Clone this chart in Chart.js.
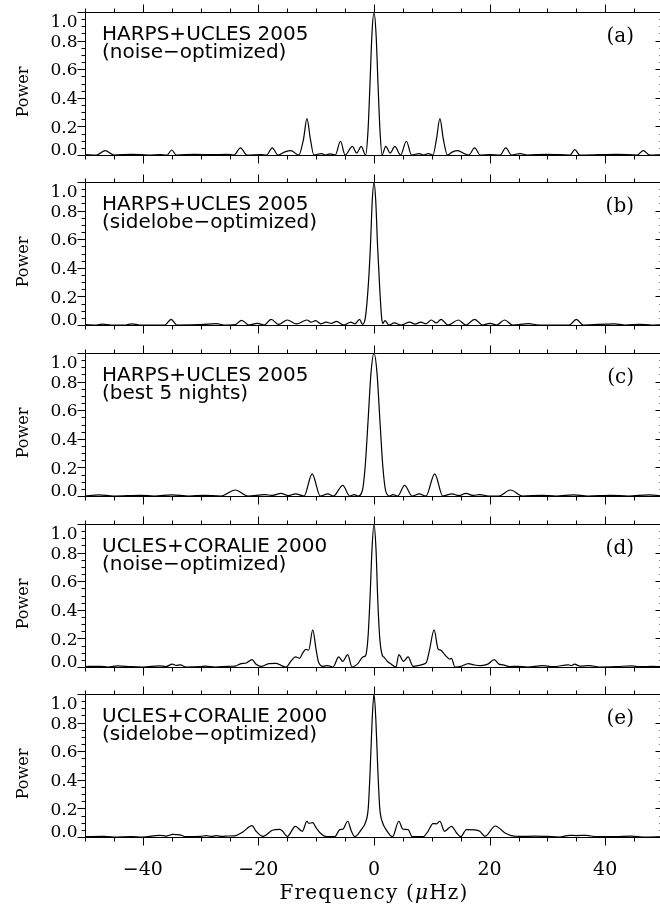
<!DOCTYPE html>
<html>
<head>
<meta charset="utf-8">
<title>Spectral windows</title>
<script src="https://cdn.jsdelivr.net/npm/chart.js@4.4.1/dist/chart.umd.min.js"></script>
<style>
  html, body { margin: 0; padding: 0; background: #fff; overflow: hidden; }
  #wrap { position: relative; width: 660px; height: 911px; overflow: hidden; background: #fff; }
  #wrap canvas { position: absolute; left: 0; }
</style>
</head>
<body>
<div id="wrap"></div>
<script>
// spectral window of each data set: [frequency (uHz), normalised power]
const windowA = [
  [-50, 0.003], [-48, 0], [-46.5, 0.03], [-45, 0], [-42, 0.004], [-39, 0], [-37, 0.003], [-35.8, 0],
  [-35, 0.035], [-34.2, 0], [-31, 0.004], [-28, 0.002], [-25.5, 0.004], [-24.2, 0], [-23.1, 0.05],
  [-22, 0], [-19.5, 0.003], [-18.6, 0], [-17.6, 0.05], [-16.6, 0], [-15.4, 0.022], [-14.4, 0.03],
  [-13, 0], [-12.2, 0.11], [-11.6, 0.254], [-11, 0.11], [-10.4, 0], [-9.1, 0.01], [-8.4, 0],
  [-7.6, 0.008], [-6.7, 0], [-5.8, 0.096], [-5, 0], [-3.74, 0.06], [-3, 0.014], [-2.2, 0.06],
  [-1.45, 0], [-1.05, 0.16], [-0.7, 0.49], [-0.35, 0.85], [0, 1], [0.35, 0.85], [0.7, 0.49],
  [1.05, 0.16], [1.4, 0], [2.03, 0.06], [2.8, 0.014], [3.6, 0.06], [4.6, 0], [5.6, 0.096], [6.5, 0],
  [7.8, 0.01], [8.6, 0], [9.4, 0.01], [10.2, 0], [10.8, 0.11], [11.4, 0.254], [12, 0.11], [12.7, 0],
  [13.6, 0.022], [14.5, 0.03], [15.6, 0.01], [16.4, 0], [17.4, 0.05], [18.4, 0], [20, 0.003],
  [21.8, 0], [22.8, 0.05], [23.8, 0], [25.3, 0.01], [26.5, 0], [30, 0.004], [33.9, 0], [34.75, 0.037],
  [35.6, 0], [39, 0.002], [42, 0.004], [45.5, 0], [46.6, 0.03], [47.7, 0], [50, 0.003]
];

const windowB = [
  [-50, 0.002], [-48, 0], [-47, 0.006], [-45.5, 0], [-43, 0], [-41.9, 0.008], [-40.5, 0], [-36.2, 0],
  [-35.1, 0.04], [-34.1, 0], [-30, 0.002], [-27.3, 0.01], [-26, 0], [-24, 0.003], [-22.9, 0.033],
  [-21.6, 0], [-20.2, 0.012], [-19, 0], [-17.8, 0.04], [-16.5, 0.004], [-15, 0.035], [-13.4, 0.008],
  [-11.6, 0.035], [-10.9, 0.02], [-10.1, 0.03], [-9.2, 0.008], [-8.3, 0.02], [-7.4, 0.012],
  [-6.5, 0.025], [-5.2, 0], [-4, 0.02], [-3.3, 0.008], [-2.5, 0.04], [-2, 0.005], [-1.5, 0.05],
  [-1, 0.27], [-0.62, 0.55], [-0.3, 0.87], [0, 1], [0.3, 0.87], [0.62, 0.55], [1, 0.25], [1.3, 0.06],
  [1.5, 0.01], [1.9, 0.03], [2.6, 0], [3.5, 0.015], [4.7, 0], [6.2, 0.02], [7.1, 0.006], [8.1, 0.02],
  [9, 0.008], [9.9, 0.035], [10.8, 0.015], [11.6, 0.04], [12.8, 0], [14.6, 0.035], [15.9, 0],
  [17.4, 0.04], [18.8, 0], [20.1, 0.012], [21.2, 0], [22.6, 0.035], [24, 0], [26.7, 0.01], [28.5, 0],
  [33.8, 0], [35, 0.04], [36.2, 0], [41.6, 0.008], [43.5, 0], [46, 0.005], [48, 0], [50, 0.002]
];

const windowC = [
  [-50, 0], [-47.6, 0.008], [-45, 0], [-40.4, 0.005], [-38, 0], [-35, 0.008], [-32, 0], [-29.5, 0.004],
  [-26.5, 0], [-24, 0.042], [-21.8, 0], [-18.9, 0.01], [-17.6, 0.004], [-16.1, 0.019], [-14.8, 0.003],
  [-13.6, 0.015], [-12.1, 0], [-10.7, 0.155], [-9.3, 0], [-8, 0.015], [-7, 0], [-5.4, 0.075],
  [-4.2, 0], [-3.4, 0.01], [-2.8, 0], [-2, 0.04], [-1.5, 0.22], [-1.05, 0.51], [-0.5, 0.87], [0, 1],
  [0.5, 0.87], [1.05, 0.51], [1.5, 0.22], [2, 0.04], [2.7, 0], [3.3, 0.01], [4.1, 0], [5.3, 0.075],
  [6.6, 0], [7.8, 0.015], [9, 0], [10.5, 0.155], [11.9, 0], [13.5, 0.015], [14.7, 0.003],
  [15.9, 0.019], [17.1, 0.004], [18.3, 0.01], [19.8, 0], [21.6, 0], [23.6, 0.042], [25.7, 0],
  [29, 0.004], [31.5, 0], [34.5, 0.008], [37, 0], [41, 0.004], [44, 0], [47.6, 0.008], [50, 0]
];

const windowD = [
  [-50, 0.003], [-47.3, 0.005], [-46, 0], [-44.4, 0.008], [-42, 0.002], [-40, 0], [-37.1, 0.008],
  [-36, 0.003], [-34.9, 0.02], [-34.2, 0.012], [-33.5, 0.015], [-32.5, 0], [-30, 0.003],
  [-29.2, 0.006], [-27.5, 0], [-25, 0.005], [-24, 0.006], [-23, 0.024], [-22.1, 0.028],
  [-21.1, 0.052], [-20.4, 0.019], [-19.5, 0.004], [-18.2, 0.024], [-17, 0.026], [-16, 0.01],
  [-15.2, 0], [-14.3, 0.045], [-13.6, 0.071], [-12.9, 0.061], [-12.3, 0.1], [-11.8, 0.123],
  [-11.3, 0.118], [-10.6, 0.259], [-10, 0.118], [-9.6, 0.035], [-8.8, 0.005], [-8, 0.01], [-7.1, 0],
  [-6.1, 0.071], [-5.4, 0.04], [-4.55, 0.087], [-3.8, 0], [-2.8, 0.024], [-1.9, 0.071],
  [-1.45, 0.08], [-1.05, 0.2], [-0.7, 0.47], [-0.35, 0.82], [0, 1], [0.35, 0.82], [0.65, 0.47],
  [1, 0.2], [1.45, 0.08], [1.7, 0.07], [2.3, 0.04], [3, 0.019], [3.8, 0], [4.3, 0.087], [5.1, 0.04],
  [5.9, 0.071], [6.75, 0.005], [7.9, 0.012], [8.6, 0.02], [9.1, 0.035], [9.6, 0.118], [10.4, 0.259],
  [11.1, 0.125], [11.55, 0.118], [11.95, 0.1], [12.6, 0.071], [13.1, 0.055], [13.4, 0.06], [14, 0],
  [15.1, 0.005], [16.3, 0.024], [17.4, 0.014], [18.5, 0.01], [19.7, 0.02], [20.8, 0.052],
  [21.6, 0.02], [22.3, 0.015], [23.5, 0.003], [24.9, 0.005], [26.5, 0], [29.2, 0.01], [31, 0.002],
  [33.6, 0.015], [34.2, 0.01], [34.7, 0.02], [35.6, 0.006], [37.3, 0.01], [39, 0], [42, 0.003],
  [44.6, 0.008], [46, 0.002], [48, 0.004], [50, 0.002]
];

const windowE = [
  [-50, 0.002], [-47, 0.004], [-45, 0], [-42, 0.003], [-40, 0], [-37.1, 0.012], [-36, 0.006],
  [-34.8, 0.018], [-33.6, 0.015], [-32.5, 0.002], [-30, 0.004], [-29, 0.01], [-28.2, 0.004],
  [-27.3, 0.009], [-26.2, 0.004], [-25.3, 0.007], [-24.1, 0.008], [-22.7, 0.035], [-21.1, 0.08],
  [-20.4, 0.04], [-19.2, 0.004], [-17.6, 0.047], [-16.3, 0.054], [-15.8, 0.04], [-15, 0.004],
  [-13.6, 0.075], [-12.4, 0.04], [-11.6, 0.11], [-11.3, 0.096], [-10.6, 0.1], [-10, 0.064],
  [-9.3, 0.028], [-8.2, 0.002], [-6.8, 0.002], [-5.9, 0.052], [-5.4, 0.054], [-4.55, 0.11],
  [-3.9, 0.04], [-3.3, 0.002], [-2.2, 0.052], [-1.4, 0.11], [-1, 0.2], [-0.65, 0.48], [-0.32, 0.82],
  [0, 1], [0.32, 0.82], [0.65, 0.48], [1, 0.2], [1.4, 0.11], [2.1, 0.052], [3.2, 0.002], [4.3, 0.11],
  [5, 0.054], [5.9, 0.052], [6.6, 0.002], [8.5, 0.002], [9.35, 0.04], [10.2, 0.094], [10.8, 0.092],
  [11.4, 0.11], [12.2, 0.04], [13.4, 0.075], [14.3, 0.028], [15, 0.002], [16, 0.052], [17.4, 0.05],
  [18.3, 0.04], [19.2, 0.005], [21, 0.077], [22.6, 0.03], [23.7, 0.01], [25.5, 0.004], [27.7, 0.006],
  [29.9, 0.004], [32, 0], [33.9, 0.012], [35, 0.01], [36.7, 0.012], [38.5, 0.002], [42, 0.003],
  [44.5, 0.006], [46.5, 0], [50, 0.003]
];

const panelNames = [
  ['HARPS+UCLES 2005', '(noise\u2212optimized)'],
  ['HARPS+UCLES 2005', '(sidelobe\u2212optimized)'],
  ['HARPS+UCLES 2005', '(best 5 nights)'],
  ['UCLES+CORALIE 2000', '(noise\u2212optimized)'],
  ['UCLES+CORALIE 2000', '(sidelobe\u2212optimized)']
];
const panelTags = ['(a)', '(b)', '(c)', '(d)', '(e)'];
const panelData = [windowA, windowB, windowC, windowD, windowE];

const xTicks = [-40, -20, 0, 20, 40];
const yTicks = [0, 0.2, 0.4, 0.6, 0.8, 1.0];
const xTitle = ['Frequency (', '\u03bc', 'Hz)'];
const yTitle = 'Power';

// page geometry
const panelTops = [12, 182, 353, 524, 694];
const PANEL_H = 143;
const PAD_TOP = 12;
const CANVAS_W = 680;
const LEFT = 85;
const RIGHT_PAD = 17;

const SERIF = '"DejaVu Serif", "Liberation Serif", serif';
const SANS = '"DejaVu Sans", "Liberation Sans", sans-serif';

function framePlugin(idx, isLast) {
  return {
    id: 'frame' + idx,
    afterDraw(chart) {
      const { ctx, chartArea: area } = chart;
      const xs = chart.scales.x, ys = chart.scales.y;
      const L = Math.round(area.left) + 0.5, R = Math.round(area.right) + 0.5;
      const T = Math.round(area.top) + 0.5, B = Math.round(area.bottom) + 0.5;

      ctx.save();
      ctx.strokeStyle = '#000';
      ctx.lineWidth = 1;
      ctx.beginPath();
      ctx.rect(L, T, R - L, B - T);

      // x ticks every 5, long ones every 20, pointing out of the box
      for (let f = -50; f <= 50; f += 5) {
        const px = Math.round(xs.getPixelForValue(f)) + 0.5;
        const len = f % 20 === 0 ? 8 : 4;
        ctx.moveTo(px, T); ctx.lineTo(px, T - len);
        ctx.moveTo(px, B); ctx.lineTo(px, B + len);
      }
      // y ticks every 0.05, long ones every 0.2; out on the left, in on the right
      for (let k = 0; k <= 20; k++) {
        const py = Math.round(ys.getPixelForValue(k * 0.05)) + 0.5;
        const len = k % 4 === 0 ? 8 : 4;
        ctx.moveTo(L, py); ctx.lineTo(L - len, py);
        ctx.moveTo(R, py); ctx.lineTo(R - len, py);
      }
      ctx.stroke();

      ctx.fillStyle = '#000';
      ctx.font = '17px ' + SERIF;
      ctx.textAlign = 'right';
      ctx.textBaseline = 'alphabetic';
      yTicks.forEach((v, i) => {
        let base = ys.getPixelForValue(v) + 6.2;
        if (i === 0) base = area.bottom - 0.5;
        if (i === yTicks.length - 1) base = area.top + 15;
        ctx.fillText(v.toFixed(1), L - 8, base);
      });

      // axis title
      ctx.save();
      ctx.translate(28, area.top + 80);
      ctx.rotate(-Math.PI / 2);
      ctx.textAlign = 'center';
      ctx.font = '16px ' + SERIF;
      ctx.fillText(yTitle, 0, 0);
      ctx.restore();

      // data set name and panel tag
      ctx.textAlign = 'left';
      ctx.font = '20px ' + SANS;
      ctx.fillText(panelNames[idx][0], area.left + 17, area.top + 27.5);
      ctx.fillText(panelNames[idx][1], area.left + 17, area.top + 46);
      ctx.textAlign = 'right';
      ctx.font = '20px ' + SERIF;
      ctx.fillText(panelTags[idx], 634, area.top + 30);

      if (isLast) {
        ctx.font = '19px ' + SERIF;
        ctx.textAlign = 'center';
        xTicks.forEach(v => {
          const label = v < 0 ? '\u2212' + Math.abs(v) : String(v);
          ctx.fillText(label, xs.getPixelForValue(v), area.bottom + 37.5);
        });

        // "Frequency (μHz)" with an italic mu
        ctx.letterSpacing = '1.2px';
        ctx.textAlign = 'left';
        const fonts = ['20px ' + SERIF, 'italic 20px ' + SERIF, '20px ' + SERIF];
        const widths = xTitle.map((s, i) => { ctx.font = fonts[i]; return ctx.measureText(s).width; });
        let x = xs.getPixelForValue(0) - widths.reduce((a, b) => a + b, 0) / 2;
        xTitle.forEach((s, i) => {
          ctx.font = fonts[i];
          ctx.fillText(s, x, area.bottom + 62);
          x += widths[i];
        });
      }
      ctx.restore();
    }
  };
}

function renderPanel(idx) {
  const isLast = idx === panelData.length - 1;
  const top = panelTops[idx] - PAD_TOP;
  const height = isLast ? 911 - top : 171;

  const canvas = document.createElement('canvas');
  canvas.width = CANVAS_W;
  canvas.height = height;
  canvas.style.width = CANVAS_W + 'px';
  canvas.style.height = height + 'px';
  canvas.style.top = top + 'px';
  document.getElementById('wrap').appendChild(canvas);

  new Chart(canvas.getContext('2d'), {
    type: 'line',
    data: {
      datasets: [{
        data: panelData[idx].map(([f, p]) => ({ x: f, y: p })),
        borderColor: '#000',
        borderWidth: 1.2,
        pointRadius: 0,
        fill: false,
        cubicInterpolationMode: 'monotone'
      }]
    },
    options: {
      responsive: false,
      animation: false,
      events: [],
      layout: {
        padding: { top: PAD_TOP, left: LEFT, right: RIGHT_PAD, bottom: height - PAD_TOP - PANEL_H }
      },
      plugins: { legend: { display: false }, tooltip: { enabled: false } },
      scales: {
        x: { type: 'linear', min: -50, max: 50, display: false },
        y: { type: 'linear', min: 0, max: 1, display: false }
      }
    },
    plugins: [framePlugin(idx, isLast)]
  });
}

document.addEventListener('DOMContentLoaded', () => {
  panelData.forEach((_, i) => renderPanel(i));
});
</script>
</body>
</html>
